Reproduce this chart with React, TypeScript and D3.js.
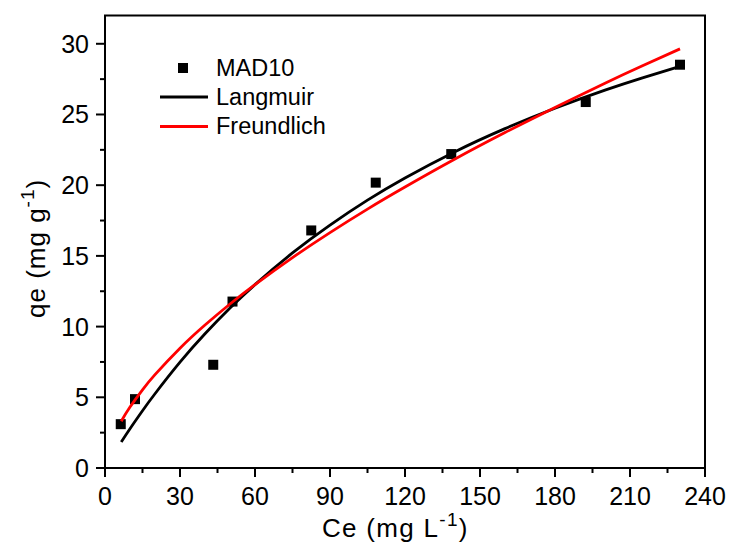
import React from "react";
import * as d3 from "d3";

const ceData = [6.3, 12, 43.3, 51, 82.5, 108.3, 138.5, 192.3, 230];
const qeData = [3.1, 4.87, 7.3, 11.77, 16.8, 20.18, 22.2, 25.88, 28.52];

const fitCe = [6.5, 10, 15, 20, 30, 40, 50, 60, 75, 90, 105, 120, 140, 160, 180, 200, 215, 230];
const langmuirQe = [1.84, 2.78, 4.05, 5.25, 7.48, 9.49, 11.31, 12.97, 15.21, 17.18, 18.94, 20.51, 22.37, 24.0, 25.44, 26.72, 27.59, 28.4];
const freundlichQe = [3.31, 4.31, 5.53, 6.6, 8.47, 10.11, 11.6, 12.97, 14.88, 16.65, 18.31, 19.87, 21.85, 23.72, 25.5, 27.21, 28.44, 29.64];

const xMajorTicks = [0, 30, 60, 90, 120, 150, 180, 210, 240];
const xMinorTicks = [15, 45, 75, 105, 135, 165, 195, 225];
const yMajorTicks = [0, 5, 10, 15, 20, 25, 30];
const yMinorTicks = [2.5, 7.5, 12.5, 17.5, 22.5, 27.5];

const legendLabels = ["MAD10", "Langmuir", "Freundlich"];

const W = 731;
const H = 545;
const L = 105;
const R = 705;
const T = 15.5;
const B = 468;
const FONT = "'Liberation Sans', Arial, sans-serif";

export default function App() {
  const x = d3.scaleLinear().domain([0, 240]).range([L, R]);
  const y = d3.scaleLinear().domain([0, 32]).range([B, T]);

  const line = d3
    .line<number>()
    .x((_, i) => x(fitCe[i]))
    .y((d) => y(d))
    .curve(d3.curveNatural);

  const langPath = line(langmuirQe) || "";
  const freuPath = line(freundlichQe) || "";

  const ms = 10;

  return (
    <svg
      width={W}
      height={H}
      style={{ position: "absolute", left: 0, top: 0, background: "#fff" }}
      fontFamily={FONT}
    >
      <rect x={0} y={0} width={W} height={H} fill="#fff" />
      {ceData.map((c, i) => (
        <rect
          key={i}
          x={x(c) - ms / 2}
          y={y(qeData[i]) - ms / 2}
          width={ms}
          height={ms}
          fill="#000"
        />
      ))}
      <path d={langPath} fill="none" stroke="#000" strokeWidth={2.8} />
      <path d={freuPath} fill="none" stroke="#ff0000" strokeWidth={2.8} />

      <rect x={L} y={T} width={R - L} height={B - T} fill="none" stroke="#000" strokeWidth={2} />

      {xMajorTicks.map((t) => (
        <g key={"xm" + t}>
          <line x1={x(t)} x2={x(t)} y1={B} y2={B + 9} stroke="#000" strokeWidth={2} />
          <text x={x(t)} y={505} fontSize={25} textAnchor="middle" fill="#000">
            {t}
          </text>
        </g>
      ))}
      {xMinorTicks.map((t) => (
        <line key={"xn" + t} x1={x(t)} x2={x(t)} y1={B} y2={B + 5} stroke="#000" strokeWidth={2} />
      ))}

      {yMajorTicks.map((t) => (
        <g key={"ym" + t}>
          <line x1={L - 9} x2={L} y1={y(t)} y2={y(t)} stroke="#000" strokeWidth={2} />
          <text x={89} y={y(t) + 9} fontSize={25} textAnchor="end" fill="#000">
            {t}
          </text>
        </g>
      ))}
      {yMinorTicks.map((t) => (
        <line key={"yn" + t} x1={L - 5} x2={L} y1={y(t)} y2={y(t)} stroke="#000" strokeWidth={2} />
      ))}

      <text x={322} y={537} fontSize={26} letterSpacing={1.3} fill="#000">
        Ce (mg L<tspan dy={-11} fontSize={19}>-1</tspan>
        <tspan dy={11}>)</tspan>
      </text>
      <text
        transform={`translate(45,318) rotate(-90)`}
        fontSize={26}
        letterSpacing={1}
        fill="#000"
      >
        qe (mg g<tspan dy={-11} fontSize={19}>-1</tspan>
        <tspan dy={11}>)</tspan>
      </text>

      <rect x={183 - ms / 2} y={68 - ms / 2} width={ms} height={ms} fill="#000" />
      <text x={216} y={76} fontSize={23.5} fill="#000">
        {legendLabels[0]}
      </text>
      <line x1={160} x2={208} y1={97} y2={97} stroke="#000" strokeWidth={2.8} />
      <text x={216} y={105} fontSize={23.5} fill="#000">
        {legendLabels[1]}
      </text>
      <line x1={160} x2={208} y1={126.5} y2={126.5} stroke="#ff0000" strokeWidth={2.8} />
      <text x={216} y={134} fontSize={23.5} fill="#000">
        {legendLabels[2]}
      </text>
    </svg>
  );
}
